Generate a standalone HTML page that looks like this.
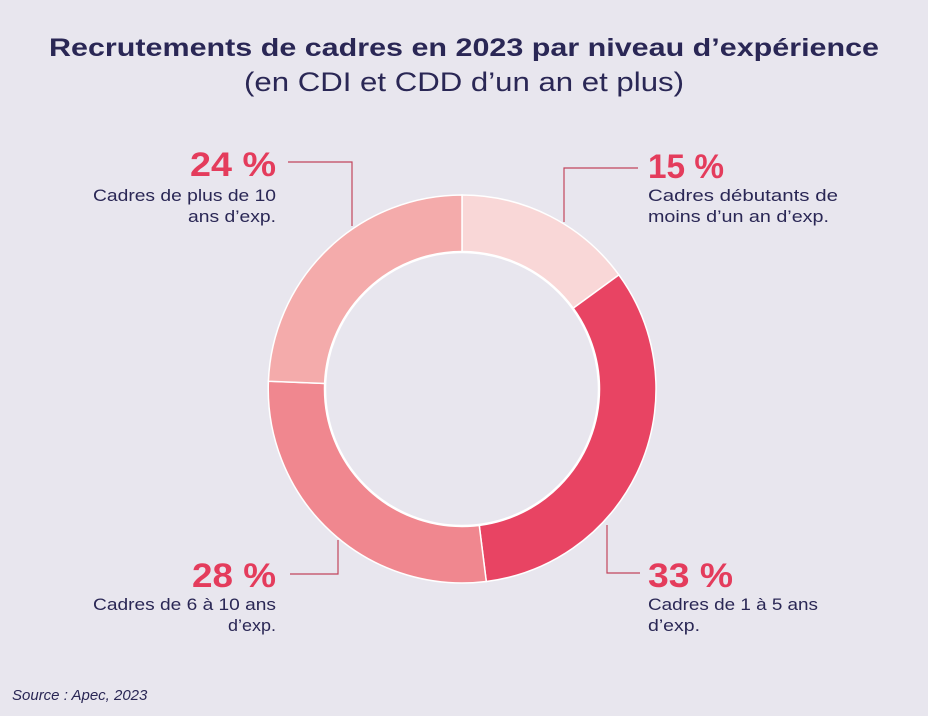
<!DOCTYPE html>
<html><head><meta charset="utf-8"><style>
body{margin:0;background:#e8e6ee;}
svg{display:block}
</style></head><body>
<svg width="928" height="716" viewBox="0 0 928 716" xmlns="http://www.w3.org/2000/svg" font-family="Liberation Sans, sans-serif">
<rect width="928" height="716" fill="#e8e6ee"/>
<text x="464" y="56" text-anchor="middle" font-size="25" font-weight="bold" fill="#2a2755" textLength="830" lengthAdjust="spacingAndGlyphs">Recrutements de cadres en 2023 par niveau d’expérience</text>
<text x="464" y="91" text-anchor="middle" font-size="27" fill="#2a2755" textLength="440" lengthAdjust="spacingAndGlyphs">(en CDI et CDD d’un an et plus)</text>
<g stroke="#fff" stroke-width="1.5">
<path d="M462,195 A194,194 0 0 1 618.9,274.9 L572.8,308.5 A137,137 0 0 0 462,252 Z" fill="#f9d7d7"/>
<path d="M618.9,274.9 A194,194 0 0 1 486.3,581.5 L479.2,524.9 A137,137 0 0 0 572.8,308.5 Z" fill="#e84463"/>
<path d="M486.3,581.5 A194,194 0 0 1 268.4,381.2 L325.3,383.5 A137,137 0 0 0 479.2,524.9 Z" fill="#f0878f"/>
<path d="M268.4,381.2 A194,194 0 0 1 462,195 L462,252 A137,137 0 0 0 325.3,383.5 Z" fill="#f4abab"/>
</g>
<circle cx="462" cy="389" r="137" fill="none" stroke="#fff" stroke-width="2.5"/>
<g stroke="#c2455d" stroke-width="1.2" fill="none">
<path d="M288,162 H352 V226"/>
<path d="M638,168 H564 V222"/>
<path d="M290,574 H338 V540"/>
<path d="M640,573 H607 V525"/>
</g>
<g fill="#e43c5c" font-weight="bold" font-size="34" lengthAdjust="spacingAndGlyphs">
<text x="190" y="176" textLength="86" lengthAdjust="spacingAndGlyphs">24 %</text>
<text x="648" y="178" textLength="76" lengthAdjust="spacingAndGlyphs">15 %</text>
<text x="192" y="587" textLength="84" lengthAdjust="spacingAndGlyphs">28 %</text>
<text x="648" y="587" textLength="85" lengthAdjust="spacingAndGlyphs">33 %</text>
</g>
<g fill="#2a2755" font-size="17">
<text x="93" y="201" textLength="183" lengthAdjust="spacingAndGlyphs">Cadres de plus de 10</text>
<text x="188" y="222" textLength="88" lengthAdjust="spacingAndGlyphs">ans d’exp.</text>
<text x="648" y="201" textLength="190" lengthAdjust="spacingAndGlyphs">Cadres débutants de</text>
<text x="648" y="222" textLength="181" lengthAdjust="spacingAndGlyphs">moins d’un an d’exp.</text>
<text x="93" y="610" textLength="183" lengthAdjust="spacingAndGlyphs">Cadres de 6 à 10 ans</text>
<text x="228" y="631" textLength="48" lengthAdjust="spacingAndGlyphs">d’exp.</text>
<text x="648" y="610" textLength="170" lengthAdjust="spacingAndGlyphs">Cadres de 1 à 5 ans</text>
<text x="648" y="631" textLength="52" lengthAdjust="spacingAndGlyphs">d’exp.</text>
</g>
<text x="12" y="700" font-size="15" font-style="italic" fill="#2a2755">Source : Apec, 2023</text>
</svg>
</body></html>
